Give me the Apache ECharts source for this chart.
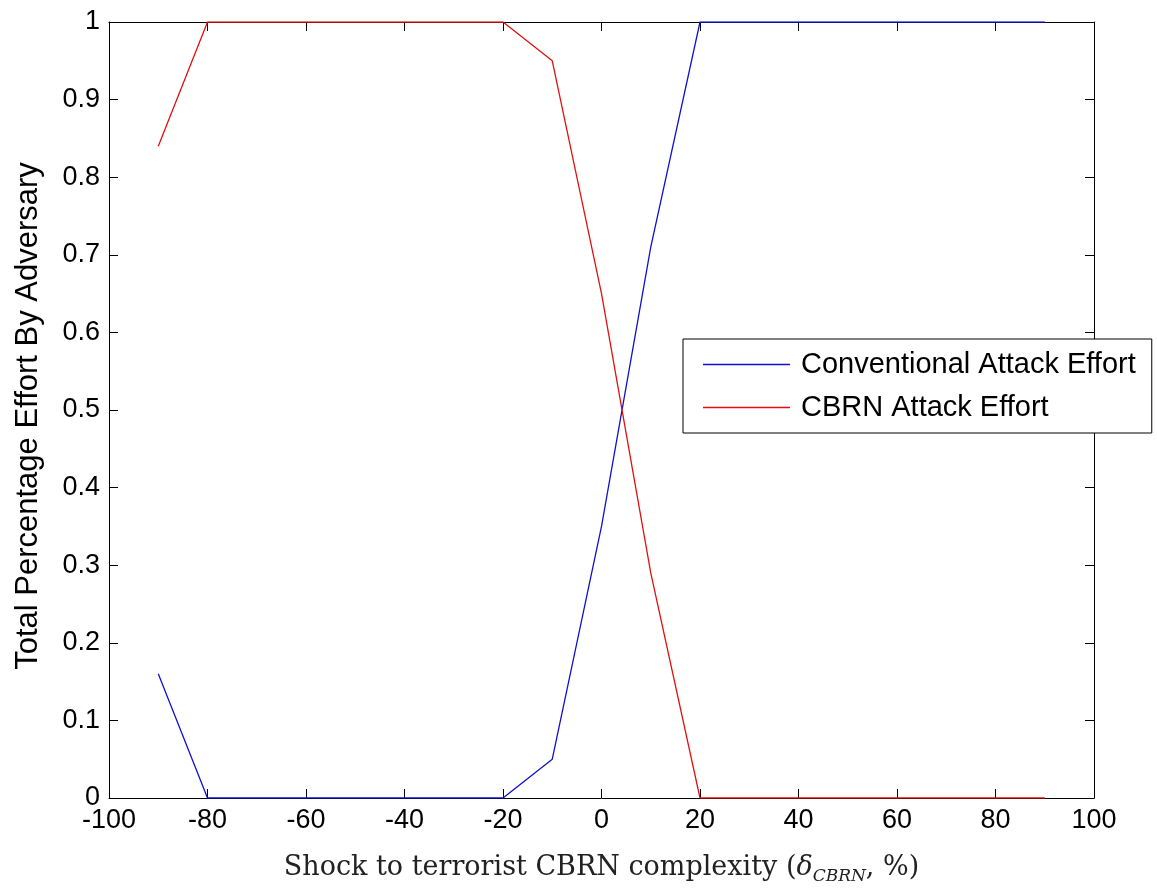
<!DOCTYPE html>
<html>
<head>
<meta charset="utf-8">
<script src="https://cdn.jsdelivr.net/npm/echarts@6/dist/echarts.min.js"></script>
<style>
  html, body { margin: 0; padding: 0; background: #fff; }
  #chart { width: 1157px; height: 888px; }
</style>
</head>
<body>
<div id="chart"></div>
<script>
// Shock to CBRN complexity (%) and the share of effort spent on each attack mode
const shocks = [-90, -80, -70, -60, -50, -40, -30, -20, -10, 0, 10, 20, 30, 40, 50, 60, 70, 80, 90];
const conventionalEffort = [0.16, 0, 0, 0, 0, 0, 0, 0, 0.05, 0.35, 0.71, 1, 1, 1, 1, 1, 1, 1, 1];
const cbrnEffort = [0.84, 1, 1, 1, 1, 1, 1, 1, 0.95, 0.65, 0.29, 0, 0, 0, 0, 0, 0, 0, 0];

const xTicks = [-100, -80, -60, -40, -20, 0, 20, 40, 60, 80, 100];
const yTicks = [0, 0.1, 0.2, 0.3, 0.4, 0.5, 0.6, 0.7, 0.8, 0.9, 1];

const seriesNames = ['Conventional Attack Effort', 'CBRN Attack Effort'];
const seriesColors = ['#1010d0', '#e01010'];

const pairs = (ys) => shocks.map((x, i) => [x, ys[i]]);

const sans = '"Liberation Sans", Arial, Helvetica, sans-serif';
const serif = '"DejaVu Serif", "Liberation Serif", serif';

const tickStyle = { show: true, inside: true, length: 9, lineStyle: { color: '#000', width: 1 } };
const axisLine = { color: '#000', width: 1 };

const xBase = {
  type: 'value',
  min: xTicks[0],
  max: xTicks[xTicks.length - 1],
  interval: xTicks[1] - xTicks[0],
  splitLine: { show: false },
  axisLine: { show: true, onZero: false, lineStyle: axisLine },
  axisTick: tickStyle
};
const yBase = {
  type: 'value',
  min: yTicks[0],
  max: yTicks[yTicks.length - 1],
  interval: 0.1,
  splitLine: { show: false },
  axisLine: { show: true, onZero: false, lineStyle: axisLine },
  axisTick: tickStyle
};

const chart = echarts.init(document.getElementById('chart'), null, { renderer: 'canvas' });

chart.setOption({
  backgroundColor: '#ffffff',
  animation: false,
  grid: { left: 109, top: 22, right: 63, bottom: 90, containLabel: false, outerBoundsMode: 'none' },
  legend: {
    orient: 'vertical',
    left: 683,
    top: 339,
    data: seriesNames.map((n) => ({ name: n, icon: 'rect' })),
    itemWidth: 87,
    itemHeight: 1.5,
    itemGap: 14,
    padding: [11, 16, 11, 20],
    borderColor: '#000',
    borderWidth: 1,
    backgroundColor: '#fff',
    textStyle: { fontFamily: sans, fontSize: 29, color: '#000', padding: [0, 0, 0, 6] }
  },
  xAxis: [
    Object.assign({}, xBase, {
      position: 'bottom',
      axisLabel: {
        show: true, margin: 9, fontFamily: sans, fontSize: 27, color: '#000',
        formatter: (v) => String(v)
      },
      name: '{a|Shock to terrorist CBRN complexity (}{d|δ}{s|CBRN}{a|, %)}',
      nameLocation: 'middle',
      nameGap: 53,
      nameTextStyle: {
        rich: {
          a: { fontFamily: serif, fontSize: 27, color: '#222', lineHeight: 34 },
          d: { fontFamily: serif, fontStyle: 'italic', fontSize: 27, color: '#222', lineHeight: 34 },
          s: { fontFamily: serif, fontStyle: 'italic', fontSize: 17, color: '#222', lineHeight: 17, verticalAlign: 'bottom' }
        }
      }
    }),
    Object.assign({}, xBase, { position: 'top', axisLabel: { show: false } })
  ],
  yAxis: [
    Object.assign({}, yBase, {
      position: 'left',
      axisLabel: {
        show: true, margin: 9, fontFamily: sans, fontSize: 27, color: '#000',
        formatter: (v) => String(+v.toFixed(1))
      },
      name: 'Total Percentage Effort By Adversary',
      nameLocation: 'middle',
      nameRotate: 90,
      nameGap: 65,
      nameTextStyle: { fontFamily: sans, fontSize: 31, color: '#000', padding: [0, 12, 0, 0] }
    }),
    Object.assign({}, yBase, { position: 'right', axisLabel: { show: false } })
  ],
  series: [
    {
      name: seriesNames[0],
      type: 'line',
      data: pairs(conventionalEffort),
      symbol: 'none',
      lineStyle: { color: seriesColors[0], width: 1.3 },
      itemStyle: { color: seriesColors[0] }
    },
    {
      name: seriesNames[1],
      type: 'line',
      data: pairs(cbrnEffort),
      symbol: 'none',
      lineStyle: { color: seriesColors[1], width: 1.3 },
      itemStyle: { color: seriesColors[1] }
    }
  ]
});
</script>
</body>
</html>
